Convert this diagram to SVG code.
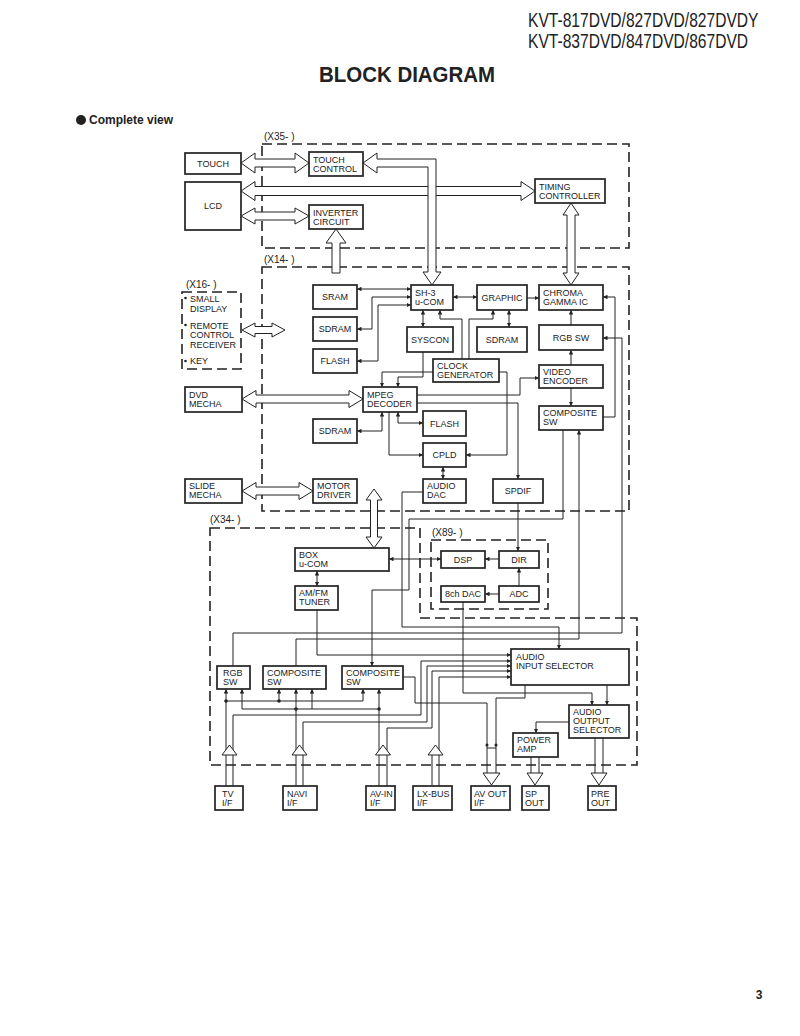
<svg xmlns="http://www.w3.org/2000/svg" width="800" height="1036" viewBox="0 0 800 1036">
<style>
.n rect{fill:#fff;stroke:#222;stroke-width:1.7}
.n text,.lb{font-family:"Liberation Sans",Arial,sans-serif;font-size:9px;fill:#222}
.c{text-anchor:middle}
.w path{fill:none;stroke:#222;stroke-width:1}
.h{fill:#fff;stroke:#222;stroke-width:1}
.dash{fill:none;stroke:#222;stroke-width:1.6;stroke-dasharray:10 5}
.lbl{font-family:"Liberation Sans",Arial,sans-serif;font-size:10px;fill:#222}
.hd{font-family:"Liberation Sans",Arial,sans-serif;fill:#222}
</style>
<defs>
<marker id="a" viewBox="0 0 6 6" refX="6" refY="3" markerWidth="4.5" markerHeight="4.5" markerUnits="userSpaceOnUse" orient="auto-start-reverse"><path d="M0,0 L6,3 L0,6 z" fill="#222"/></marker>
</defs>
<rect width="800" height="1036" fill="#fff"/>

<g id="header">
<text class="hd" font-size="20" transform="translate(528,27) scale(0.78,1)">KVT-817DVD/827DVD/827DVDY</text>
<text class="hd" font-size="20" transform="translate(528,48) scale(0.78,1)">KVT-837DVD/847DVD/867DVD</text>
<text class="hd" font-size="22" font-weight="bold" transform="translate(319,82) scale(0.93,1)">BLOCK DIAGRAM</text>
<circle cx="81" cy="120" r="5" fill="#222"/>
<text class="hd" x="89" y="124" font-size="12" font-weight="bold">Complete view</text>
<text class="hd" x="759" y="999" font-size="12" font-weight="bold" text-anchor="middle">3</text>
</g>

<g id="frames">
<rect class="dash" x="262" y="144" width="367" height="104"/>
<text class="lbl" x="264" y="140">(X35- )</text>
<rect class="dash" x="262" y="267" width="367" height="244"/>
<text class="lbl" x="264" y="263">(X14- )</text>
<rect class="dash" x="182" y="292" width="59" height="77"/>
<text class="lbl" x="186" y="288">(X16- )</text>
<path class="dash" d="M210,528 L420,528 L420,618 L637,618 L637,765 L210,765 Z"/>
<text class="lbl" x="210" y="523">(X34- )</text>
<rect class="dash" x="431" y="540" width="117" height="69"/>
<text class="lbl" x="432" y="536">(X89- )</text>
</g>

<g id="x16-list">
<circle cx="185.5" cy="298" r="1.3" fill="#222"/>
<circle cx="185.5" cy="325" r="1.3" fill="#222"/>
<circle cx="185.5" cy="361" r="1.3" fill="#222"/>
<text class="lb" x="190" y="302">SMALL</text>
<text class="lb" x="190" y="312">DISPLAY</text>
<text class="lb" x="190" y="329">REMOTE</text>
<text class="lb" x="190" y="338">CONTROL</text>
<text class="lb" x="190" y="348">RECEIVER</text>
<text class="lb" x="190" y="364">KEY</text>
</g>

<g id="connectors">
<g class="w" marker-end="url(#a)">
<path d="M357,289 L411,289" marker-start="url(#a)"/>
<path d="M357,329 L372,329 L372,297 L411,297" marker-start="url(#a)"/>
<path d="M357,361 L378,361 L378,305 L411,305" marker-start="url(#a)"/>
<path d="M453,297 L477,297" marker-start="url(#a)"/>
<path d="M527,298 L539,298"/>
<path d="M423,310 L423,327" marker-start="url(#a)"/>
<path d="M509,310 L509,327" marker-start="url(#a)"/>
<path d="M462,359 L462,319 L440,319 L440,310"/>
<path d="M469,359 L469,319 L493,319 L493,310"/>
<path d="M423,352 L423,377 L398,377 L398,387"/>
<path d="M433,372 L382,372 L382,387"/>
<path d="M499,372 L507,372 L507,455 L466,455"/>
<path d="M417,395 L520,395 L520,378 L539,378"/>
<path d="M417,403 L518,403 L518,479"/>
<path d="M357,431 L382,431 L382,412" marker-start="url(#a)"/>
<path d="M423,423 L398,423 L398,412" marker-start="url(#a)"/>
<path d="M389,412 L389,455 L423,455"/>
<path d="M443,467 L443,479" marker-start="url(#a)"/>
<path d="M571,365 L571,350"/>
<path d="M571,325 L571,310"/>
<path d="M571,388 L571,406"/>
<path d="M603,417 L615,417 L615,297 L603,297"/>
<path d="M233,666 L233,633 L622,633 L622,338 L603,338"/>
<path d="M296,666 L296,639 L579,639 L579,430"/>
<path d="M563,430 L563,519 L409,519 L409,590 L372,590 L372,666"/>
<path d="M423,492 L402,492 L402,627 L559,627 L559,649"/>
<path d="M518,503 L518,551"/>
<path d="M519,586 L519,568"/>
<path d="M499,559 L485,559"/>
<path d="M499,594 L485,594"/>
<path d="M389,559 L441,559" marker-start="url(#a)"/>
<path d="M317,571 L317,586" marker-start="url(#a)"/>
<path d="M317,610 L317,655 L511,655"/>
<path d="M233,786 L233,715 L421,715 L421,661 L511,661"/>
<path d="M303,786 L303,722 L427,722 L427,666 L511,666"/>
<path d="M387,786 L387,728 L432,728 L432,671 L511,671"/>
<path d="M439,786 L439,677 L511,677"/>
<path d="M226,786 L226,689"/>
<path d="M226,701 L363,701 L363,689"/>
<path d="M279,701 L279,689"/>
<path d="M242,709 L242,689"/>
<path d="M296,786 L296,689"/>
<path d="M312,709 L312,689"/>
<path d="M379,786 L379,689"/>
<path d="M463,602 L463,693 L592,693 L592,705"/>
<path d="M607,685 L607,705"/>
<path d="M569,722 L536,722 L536,733"/>
</g>
<g class="w">
<path d="M242,709 L379,709"/>
<path d="M432,755 L432,786"/>
<path d="M403,677 L415,677 L415,703 L487,703 L487,773"/>
<path d="M525,685 L525,698 L496,698 L496,773"/>
<path d="M487,748 L496,748"/>
<path d="M595,738 L595,773 M603,738 L603,773"/>
<path d="M531,757 L531,773 M539,757 L539,773"/>
</g>
<g fill="#222">
<circle cx="226" cy="701" r="1.8"/>
<circle cx="279" cy="701" r="1.8"/>
<circle cx="296" cy="709" r="1.8"/>
<circle cx="379" cy="709" r="1.8"/>
<circle cx="487" cy="745" r="1.5"/>
<circle cx="496" cy="745" r="1.5"/>
</g>
<g class="h">
<path d="M241,163 L255,153 L255,159 L295,159 L295,153 L309,163 L295,173 L295,167 L255,167 L255,173 Z"/>
<path d="M241,191 L255,181.5 L255,186.5 L521,186.5 L521,181.5 L535,191 L521,200.5 L521,195.5 L255,195.5 L255,200.5 Z"/>
<path d="M241,216 L255,208 L255,212 L295,212 L295,208 L309,216 L295,224 L295,220 L255,220 L255,224 Z"/>
<path d="M242,330 L255,323 L255,326.5 L272,326.5 L272,323 L285,330 L272,337 L272,333.5 L255,333.5 L255,337 Z"/>
<path d="M242,399 L256,390.5 L256,395 L349,395 L349,390.5 L363,399 L349,407.5 L349,403 L256,403 L256,407.5 Z"/>
<path d="M242,491 L256,482.5 L256,487 L299,487 L299,482.5 L313,491 L299,499.5 L299,495 L256,495 L256,499.5 Z"/>
<path d="M571,203 L579,215 L575,215 L575,273 L579,273 L571,285 L563,273 L567,273 L567,215 L563,215 Z"/>
<path d="M374,489 L382,500 L377.5,500 L377.5,537 L382,537 L374,548 L366,537 L370.5,537 L370.5,500 L366,500 Z"/>
<path d="M336,229 L346,243 L340,243 L340,273 L332,273 L332,243 L326,243 Z"/>
<path d="M363,163 L377,153 L377,159 L436,159 L436,272 L441,272 L432,285 L423,272 L428,272 L428,167 L377,167 L377,173 Z"/>
<path d="M229.5,745 L237,755 L222,755 Z"/>
<path d="M299.5,745 L307,755 L292,755 Z"/>
<path d="M383,745 L390.5,755 L375.5,755 Z"/>
<path d="M435.5,745 L443,755 L428,755 Z"/>
<path d="M491.5,785 L483,773 L500,773 Z"/>
<path d="M535,785 L527,773 L543,773 Z"/>
<path d="M599,785 L591,773 L607,773 Z"/>
</g>
</g>

<g id="touch" class="n"><rect x="185" y="153" width="56" height="21"/><text class="c" x="213" y="167">TOUCH</text></g>
<g id="lcd" class="n"><rect x="185" y="182" width="56" height="48"/><text class="c" x="213" y="209">LCD</text></g>
<g id="touch-control" class="n"><rect x="309" y="152" width="54" height="24"/><text x="313" y="163">TOUCH</text><text x="313" y="172">CONTROL</text></g>
<g id="timing-controller" class="n"><rect x="535" y="179" width="70" height="24"/><text x="539" y="190">TIMING</text><text x="539" y="199">CONTROLLER</text></g>
<g id="inverter-circuit" class="n"><rect x="309" y="205" width="54" height="24"/><text x="313" y="216">INVERTER</text><text x="313" y="225">CIRCUIT</text></g>
<g id="sram" class="n"><rect x="313" y="285" width="44" height="24"/><text class="c" x="335" y="300">SRAM</text></g>
<g id="sdram-1" class="n"><rect x="313" y="317" width="44" height="24"/><text class="c" x="335" y="332">SDRAM</text></g>
<g id="flash-1" class="n"><rect x="313" y="349" width="44" height="24"/><text class="c" x="335" y="364">FLASH</text></g>
<g id="sh3" class="n"><rect x="411" y="285" width="42" height="25"/><text x="415" y="296">SH-3</text><text x="415" y="305">u-COM</text></g>
<g id="graphic" class="n"><rect x="477" y="285" width="50" height="25"/><text class="c" x="502" y="301">GRAPHIC</text></g>
<g id="chroma" class="n"><rect x="539" y="285" width="64" height="25"/><text x="543" y="296">CHROMA</text><text x="543" y="305">GAMMA IC</text></g>
<g id="syscon" class="n"><rect x="407" y="327" width="46" height="25"/><text class="c" x="430" y="343">SYSCON</text></g>
<g id="sdram-2" class="n"><rect x="477" y="327" width="50" height="25"/><text class="c" x="502" y="343">SDRAM</text></g>
<g id="rgb-sw-1" class="n"><rect x="539" y="325" width="64" height="25"/><text class="c" x="571" y="341">RGB SW</text></g>
<g id="clock-generator" class="n"><rect x="433" y="359" width="66" height="23"/><text x="437" y="369">CLOCK</text><text x="437" y="378">GENERATOR</text></g>
<g id="video-encoder" class="n"><rect x="539" y="365" width="64" height="23"/><text x="543" y="375">VIDEO</text><text x="543" y="384">ENCODER</text></g>
<g id="dvd-mecha" class="n"><rect x="185" y="387" width="57" height="25"/><text x="189" y="398">DVD</text><text x="189" y="407">MECHA</text></g>
<g id="mpeg-decoder" class="n"><rect x="363" y="387" width="54" height="25"/><text x="367" y="398">MPEG</text><text x="367" y="407">DECODER</text></g>
<g id="composite-sw-1" class="n"><rect x="539" y="406" width="64" height="24"/><text x="543" y="416">COMPOSITE</text><text x="543" y="425">SW</text></g>
<g id="flash-2" class="n"><rect x="423" y="411" width="43" height="25"/><text class="c" x="444.5" y="427">FLASH</text></g>
<g id="sdram-3" class="n"><rect x="313" y="419" width="44" height="24"/><text class="c" x="335" y="434">SDRAM</text></g>
<g id="cpld" class="n"><rect x="423" y="443" width="43" height="24"/><text class="c" x="444.5" y="458">CPLD</text></g>
<g id="slide-mecha" class="n"><rect x="185" y="479" width="57" height="24"/><text x="189" y="489">SLIDE</text><text x="189" y="498">MECHA</text></g>
<g id="motor-driver" class="n"><rect x="313" y="479" width="44" height="24"/><text x="317" y="489">MOTOR</text><text x="317" y="498">DRIVER</text></g>
<g id="audio-dac" class="n"><rect x="423" y="479" width="43" height="24"/><text x="427" y="489">AUDIO</text><text x="427" y="498">DAC</text></g>
<g id="spdif" class="n"><rect x="493" y="479" width="50" height="24"/><text class="c" x="518" y="494">SPDIF</text></g>
<g id="box-ucom" class="n"><rect x="295" y="548" width="94" height="23"/><text x="299" y="558">BOX</text><text x="299" y="567">u-COM</text></g>
<g id="amfm-tuner" class="n"><rect x="295" y="586" width="43" height="24"/><text x="299" y="596">AM/FM</text><text x="299" y="605">TUNER</text></g>
<g id="dsp" class="n"><rect x="441" y="551" width="44" height="17"/><text class="c" x="463" y="563">DSP</text></g>
<g id="dir" class="n"><rect x="499" y="551" width="40" height="17"/><text class="c" x="519" y="563">DIR</text></g>
<g id="dac-8ch" class="n"><rect x="441" y="586" width="44" height="16"/><text class="c" x="463" y="597">8ch DAC</text></g>
<g id="adc" class="n"><rect x="499" y="586" width="40" height="16"/><text class="c" x="519" y="597">ADC</text></g>
<g id="audio-input-selector" class="n"><rect x="511" y="649" width="118" height="36"/><text x="516" y="660">AUDIO</text><text x="516" y="669">INPUT SELECTOR</text></g>
<g id="rgb-sw-2" class="n"><rect x="217" y="666" width="33" height="23"/><text x="223" y="676">RGB</text><text x="223" y="685">SW</text></g>
<g id="composite-sw-2" class="n"><rect x="263" y="666" width="63" height="23"/><text x="267" y="676">COMPOSITE</text><text x="267" y="685">SW</text></g>
<g id="composite-sw-3" class="n"><rect x="342" y="666" width="61" height="23"/><text x="346" y="676">COMPOSITE</text><text x="346" y="685">SW</text></g>
<g id="audio-output-selector" class="n"><rect x="569" y="705" width="60" height="33"/><text x="573" y="715">AUDIO</text><text x="573" y="724">OUTPUT</text><text x="573" y="733">SELECTOR</text></g>
<g id="power-amp" class="n"><rect x="513" y="733" width="45" height="24"/><text x="517" y="743">POWER</text><text x="517" y="752">AMP</text></g>
<g id="tv-if" class="n"><rect x="215" y="786" width="28" height="24"/><text x="222" y="797">TV</text><text x="222" y="806">I/F</text></g>
<g id="navi-if" class="n"><rect x="283" y="786" width="34" height="24"/><text x="287" y="797">NAVI</text><text x="287" y="806">I/F</text></g>
<g id="av-in-if" class="n"><rect x="366" y="786" width="29" height="24"/><text x="370" y="797">AV-IN</text><text x="370" y="806">I/F</text></g>
<g id="lx-bus-if" class="n"><rect x="413" y="786" width="39" height="24"/><text x="417" y="797">LX-BUS</text><text x="417" y="806">I/F</text></g>
<g id="av-out-if" class="n"><rect x="471" y="786" width="39" height="24"/><text x="474" y="797">AV OUT</text><text x="474" y="806">I/F</text></g>
<g id="sp-out" class="n"><rect x="522" y="786" width="27" height="24"/><text x="525" y="797">SP</text><text x="525" y="806">OUT</text></g>
<g id="pre-out" class="n"><rect x="588" y="786" width="28" height="24"/><text x="591" y="797">PRE</text><text x="591" y="806">OUT</text></g>
</svg>
